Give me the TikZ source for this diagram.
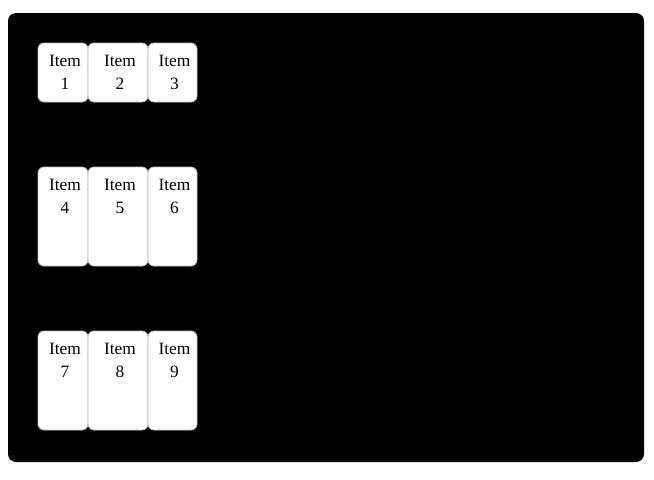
\documentclass[tikz,border=0pt]{standalone}
\usepackage{fontspec}
\setmainfont{Liberation Serif}
\begin{document}
\begin{tikzpicture}[x=0.75pt,y=-0.75pt,
  itembox/.style={draw=black!25,fill=white,rounded corners=4.5pt,line width=0.6pt},
  itemtext/.style={font=\fontsize{13pt}{17pt}\selectfont,align=center,inner sep=0pt,anchor=north}]
\useasboundingbox (0,0) rectangle (654,479);
\fill[white] (0,0) rectangle (654,479);
\fill[black,rounded corners=6pt] (8,13) rectangle (644,462) coordinate (panel);
\foreach \r/\ya/\yb [count=\ri from 0] in {0/43/102,1/167/266,2/331/430}{
  \foreach \xa/\xb [count=\ci from 1] in {38/88,88/148,148/197}{
    \pgfmathtruncatemacro{\n}{\ri*3+\ci}
    \draw[itembox] (\xa,\ya) rectangle (\xb,\yb);
    \node[itemtext] (item\n) at ({(\xa+\xb)/2+2},\ya+12) {Item\\\n};
  }
}
\end{tikzpicture}
\end{document}
